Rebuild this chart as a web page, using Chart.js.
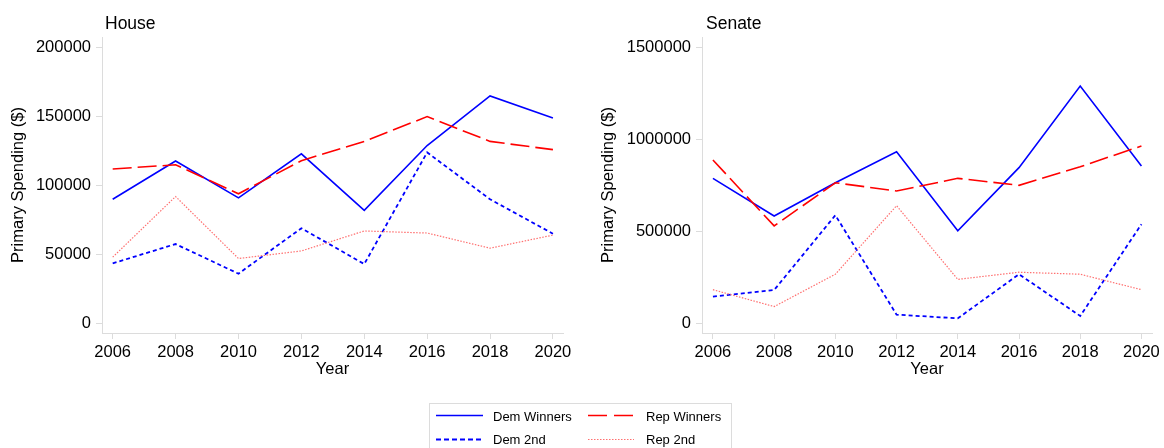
<!DOCTYPE html>
<html>
<head>
<meta charset="utf-8">
<script src="https://cdn.jsdelivr.net/npm/chart.js@4.4.1/dist/chart.umd.min.js"></script>
<style>
  body { margin: 0; background: #fff; font-family: "Liberation Sans", Arial, sans-serif; }
  #wrap { position: relative; width: 1164px; height: 448px; overflow: hidden; }
  .panel { position: absolute; top: 0; width: 582px; height: 390px; }
  .ptitle { position: absolute; top: 15px; font-size: 17.5px; line-height: 17.5px; color: #000; }
  .ltxt { position: absolute; font-size: 13px; line-height: 13px; color: #000; white-space: nowrap; }
  #legsvg { position: absolute; left: 0; top: 0; }
</style>
</head>
<body>
<div id="wrap">
  <div class="panel" style="left:0"><canvas id="house-chart" width="582" height="390"></canvas></div>
  <div class="panel" style="left:582px"><canvas id="senate-chart" width="582" height="390"></canvas></div>
  <div class="ptitle" style="left:105px">House</div>
  <div class="ptitle" style="left:706px">Senate</div>

  <svg id="legsvg" width="1164" height="448">
    <rect x="429.5" y="403.5" width="302" height="60" fill="none" stroke="#dcdcdc" stroke-width="1"/>
    <line x1="436" y1="415.5" x2="483" y2="415.5" stroke="#0000ff" stroke-width="1.6"/>
    <line x1="588" y1="415.5" x2="633" y2="415.5" stroke="#ff0000" stroke-width="1.6" stroke-dasharray="19 7"/>
    <line x1="436" y1="439.5" x2="483" y2="439.5" stroke="#0000ff" stroke-width="1.8" stroke-dasharray="5 3"/>
    <line x1="588" y1="439.5" x2="634" y2="439.5" stroke="#ff7070" stroke-width="1.2" stroke-dasharray="1.5 1.5"/>
  </svg>
  <div class="ltxt" style="left:493px; top:410px">Dem Winners</div>
  <div class="ltxt" style="left:646px; top:410px">Rep Winners</div>
  <div class="ltxt" style="left:493px; top:433px">Dem 2nd</div>
  <div class="ltxt" style="left:646px; top:433px">Rep 2nd</div>
</div>

<script>
// Election years (x axis)
const years = [2006, 2008, 2010, 2012, 2014, 2016, 2018, 2020];

// House primary spending ($)
const houseDemWinners = [90000, 117800, 91000, 123000, 82000, 129000, 165000, 149000];
const houseRepWinners = [112000, 115000, 94000, 118000, 132000, 150000, 132000, 126000];
const houseDem2nd = [43500, 57500, 36000, 69000, 43000, 124000, 90000, 65000];
const houseRep2nd = [48000, 92000, 47000, 52500, 67000, 65500, 54500, 64000];

// Senate primary spending ($)
const senateDemWinners = [789000, 584000, 765000, 934000, 504000, 847000, 1291000, 856000];
const senateRepWinners = [889000, 530000, 765000, 720000, 789000, 751000, 852000, 965000];
const senateDem2nd = [145000, 181000, 588000, 47000, 27000, 267000, 40000, 539000];
const senateRep2nd = [183000, 91000, 267000, 640000, 239000, 278000, 267000, 183000];

// Tick labels
const houseTicks = [0, 50000, 100000, 150000, 200000];
const senateTicks = [0, 500000, 1000000, 1500000];
const yearTicks = years;

const axisColor = '#dcdcdc';
const fontFamily = '"Liberation Sans", Arial, sans-serif';
const tickFont = { family: fontFamily, size: 16.5 };

// pair years with values for the linear x scale
function toPoints(values) {
    return values.map((v, i) => ({ x: years[i], y: v }));
}

function buildDatasets(demW, repW, dem2, rep2) {
    return [
        { label: 'Rep 2nd', data: toPoints(rep2), borderColor: '#ff7070', borderWidth: 1.2, borderDash: [1.5, 1.5] },
        { label: 'Dem 2nd', data: toPoints(dem2), borderColor: '#0000ff', borderWidth: 1.8, borderDash: [4, 3] },
        { label: 'Rep Winners', data: toPoints(repW), borderColor: '#ff0000', borderWidth: 1.6, borderDash: [19, 6] },
        { label: 'Dem Winners', data: toPoints(demW), borderColor: '#0000ff', borderWidth: 1.6 }
    ];
}

function makeChart(id, datasets, opts) {
    const ctx = document.getElementById(id).getContext('2d');
    return new Chart(ctx, {
        type: 'line',
        data: { datasets: datasets },
        options: {
            responsive: false,
            animation: false,
            layout: { padding: { left: 0, top: 37, right: opts.padRight, bottom: 0 } },
            elements: { point: { radius: 0 }, line: { tension: 0, fill: false } },
            plugins: { legend: { display: false }, tooltip: { enabled: false } },
            scales: {
                x: {
                    type: 'linear',
                    min: opts.xMin,
                    max: opts.xMax,
                    afterBuildTicks: s => { s.ticks = yearTicks.map(v => ({ value: v })); },
                    afterFit: s => { s.height = 57; },
                    grid: { drawOnChartArea: false, drawTicks: true, tickLength: 6, color: axisColor },
                    border: { color: axisColor },
                    ticks: { color: '#000', font: tickFont, padding: 4, maxRotation: 0, callback: v => String(v) },
                    title: { display: true, text: 'Year', color: '#000', font: tickFont, padding: { top: 0, bottom: 11 } }
                },
                y: {
                    min: opts.yMin,
                    max: opts.yMax,
                    afterBuildTicks: s => { s.ticks = opts.yTicks.map(v => ({ value: v })); },
                    afterFit: s => { s.width = opts.yWidth; },
                    grid: { drawOnChartArea: false, drawTicks: true, tickLength: 6, color: axisColor },
                    border: { color: axisColor },
                    ticks: { color: '#000', font: tickFont, padding: 5, callback: v => String(v) },
                    title: { display: true, text: 'Primary Spending ($)', color: '#000', font: tickFont, padding: { top: opts.yTitlePad, bottom: 0 } }
                }
            }
        }
    });
}

makeChart('house-chart',
    buildDatasets(houseDemWinners, houseRepWinners, houseDem2nd, houseRep2nd),
    { padRight: 19, xMin: 2005.66, xMax: 2020.32, yMin: -7040, yMax: 207760, yTicks: houseTicks, yWidth: 102, yTitlePad: 8.3 });

makeChart('senate-chart',
    buildDatasets(senateDemWinners, senateRepWinners, senateDem2nd, senateRep2nd),
    { padRight: 9, xMin: 2005.643, xMax: 2020.348, yMin: -52800, yMax: 1558200, yTicks: senateTicks, yWidth: 120, yTitlePad: 17 });
</script>
</body>
</html>
